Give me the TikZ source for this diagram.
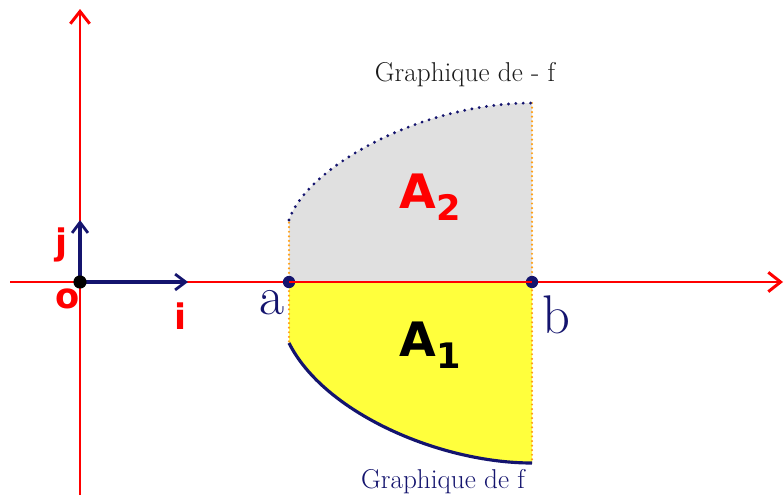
\documentclass[tikz,border=0pt]{standalone}
\usepackage{fontspec}
\usetikzlibrary{arrows.meta}
\newfontfamily\verd{DejaVu Sans}
\definecolor{caxis}{HTML}{FF0000}
\definecolor{cnavy}{HTML}{14146E}
\definecolor{cyel}{HTML}{FFFF3C}
\definecolor{cgray}{HTML}{E0E0E0}
\definecolor{cedge}{HTML}{FFA018}
\definecolor{ctext}{HTML}{1A1A1A}
\newcommand{\aire}[1]{{\verd\bfseries\fontsize{27}{27}\selectfont A\raisebox{-7pt}{\fontsize{20}{20}\selectfont #1}}}

\begin{document}
\begin{tikzpicture}[
  x=0.02cm, y=0.02cm,
  axis/.style={-{Straight Barb[length=7pt, width=11pt, line width=1.7pt]}, line width=1.7pt, draw=caxis},
  vec/.style={-{Straight Barb[length=6pt, width=9pt, line width=1.6pt]}, line width=1.8pt, draw=cnavy},
  pt/.style={circle, fill=#1, inner sep=0pt, minimum size=7pt},
  edge/.style={draw=cedge, line width=1.4pt, dash pattern=on 0pt off 2.6pt, line cap=round},
  unit/.style={font=\verd\bfseries\fontsize{20}{20}\selectfont, text=caxis, inner sep=0pt},
  bound/.style={font=\fontsize{31}{31}\selectfont, text=cnavy, inner sep=0pt},
  graph/.style={font=\fontsize{15.5}{16}\selectfont, inner sep=0pt},
]
\useasboundingbox (0,0) rectangle (784,495);

% ------------------------------------------------------------ points
\coordinate (xmin) at (10,213);
\coordinate (xmax) at (783,213);
\coordinate (ymin) at (80,0);
\coordinate (ymax) at (80,486);
\coordinate (itip) at (188,213);
\coordinate (jtip) at (80,275);
\coordinate (top0) at (289,275);
\coordinate (top1) at (532,392);
\coordinate (bot0) at (289,152);
\coordinate (bot1) at (532,32);

% ------------------------------------------------------------ areas
\fill[cgray] (289,213) -- (top0) .. controls (306,327) and (420,392) .. (top1) -- (532,213) -- cycle;
\fill[cyel] (289,213) -- (bot0) .. controls (324,82) and (440,32) .. (bot1) -- (532,213) -- cycle;
\draw[edge] (289,213) -- (top0);
\draw[edge] (289,213) -- (bot0);
\draw[edge] (top1) -- (bot1);
\draw[cnavy, line width=1.8pt, dash pattern=on 0pt off 4.2pt, line cap=round]
  (top0) .. controls (306,327) and (420,392) .. (top1);
\draw[cnavy, line width=1.8pt] (bot0) .. controls (324,82) and (440,32) .. (bot1);

% ------------------------------------------------------------ axes
\draw[axis] (xmin) -- (xmax);
\draw[axis] (ymin) -- (ymax);
\node[pt=cnavy] (a) at (289,213) {};
\node[pt=cnavy] (b) at (532,213) {};
\draw[caxis, line width=1.7pt] (a.center) -- (b.center);
\draw[vec] (80,213) -- (itip);
\draw[vec] (80,213) -- (jtip);
\node[pt=black, minimum size=7.5pt] (O) at (80,213) {};

% ------------------------------------------------------------ labels
\node[unit] (o) at (68,196) {o};
\node[unit] (j) at (62,250) {j};
\node[unit] (i) at (181,179) {i};
\node[bound] (la) at (272,192) {a};
\node[bound] (lb) at (556,180) {b};
\node[text=caxis, inner sep=0pt] (A2) at (430,298) {\aire{2}};
\node[text=black, inner sep=0pt] (A1) at (430,150) {\aire{1}};
\node[graph, text=ctext] (gmf) at (465,420) {Graphique de - f};
\node[graph, text=cnavy] (gf) at (443,13) {Graphique de f};

\end{tikzpicture}
\end{document}
